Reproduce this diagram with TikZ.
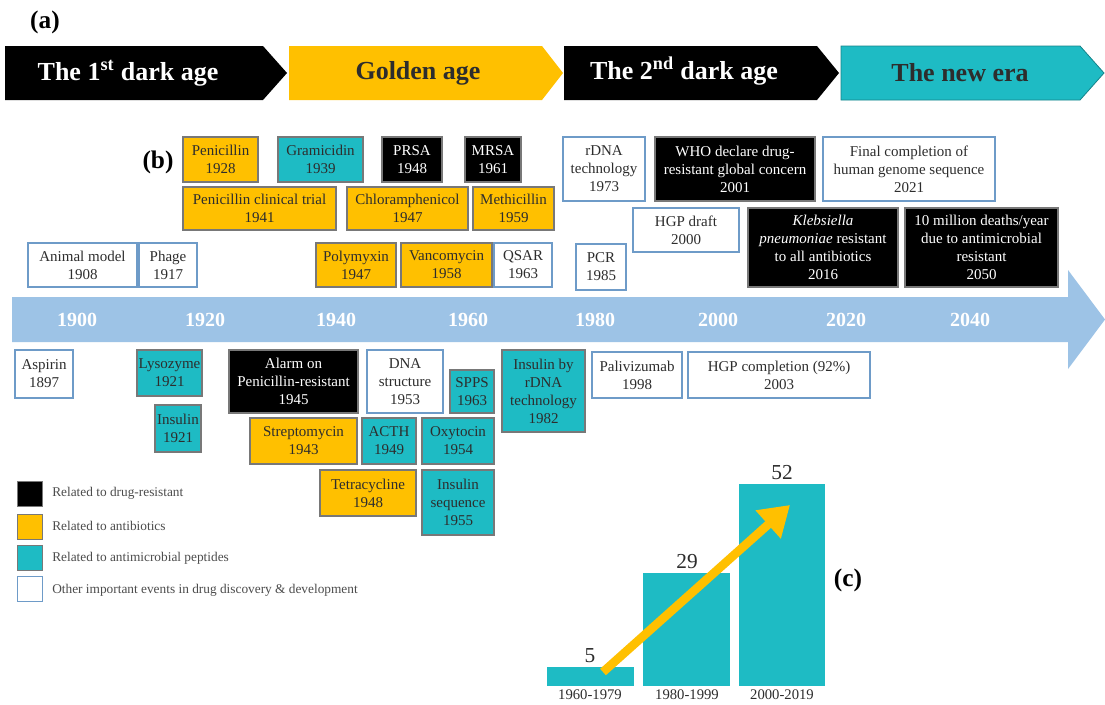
\documentclass[tikz,border=0pt]{standalone}
\usepackage{fontspec}
\setmainfont{Liberation Serif}
\usetikzlibrary{backgrounds,arrows.meta}
\definecolor{tlblue}{RGB}{157,195,230}
\definecolor{gold}{RGB}{255,192,0}
\definecolor{teal2}{RGB}{30,187,196}
\definecolor{bordblue}{RGB}{110,155,200}
\definecolor{bordgray}{RGB}{120,120,120}
\definecolor{txt}{RGB}{45,45,45}
\tikzset{
 ev/.style={line width=0.9pt, align=center, font=\fontsize{11.25}{13.5}\selectfont, inner sep=0.5pt, text=txt},
 wbox/.style={ev, fill=white, draw=bordblue},
 obox/.style={ev, fill=gold, draw=bordgray},
 tbox/.style={ev, fill=teal2, draw=bordgray},
 kbox/.style={ev, fill=black, draw=bordgray, text=white},
 sz/.style 2 args={minimum width=#1*0.75pt, minimum height=#2*0.75pt},
 conn/.style={draw=tlblue, line width=1.2pt},
 ph/.style={font=\fontsize{19.5}{22}\selectfont\bfseries, inner sep=0},
 lab/.style={font=\fontsize{19}{22}\selectfont\bfseries, text=black, inner sep=0},
 yr/.style={font=\fontsize{15}{17}\selectfont\bfseries, text=white, inner sep=0},
 lsq/.style={line width=0.8pt, minimum size=25*0.75pt, inner sep=0},
 ltx/.style={anchor=west, font=\fontsize{10}{11}\selectfont, text=txt!85, inner sep=0},
 num/.style={font=\fontsize{16}{18}\selectfont, text=txt, inner sep=0},
 xl/.style={font=\fontsize{11}{12}\selectfont, text=txt, inner sep=0},
}
\begin{document}
\begin{tikzpicture}[x=0.75pt,y=-0.75pt]
\useasboundingbox (0,0) rectangle (1105,704);
\fill[white] (0,0) rectangle (1105,704);

% (a) phases
\node[lab] (la) at (45,22) {(a)};
\fill[black] (5,46) -- (263,46) -- (287,73) -- (263,100) -- (5,100) -- cycle;
\node[ph, text=white] (p1) at (128,73) {The 1\textsuperscript{st} dark age};
\fill[gold] (289,46) -- (542,46) -- (563,73) -- (542,100) -- (289,100) -- cycle;
\node[ph, text=txt] (p2) at (418,73) {Golden age};
\fill[black] (564,46) -- (817,46) -- (839,73) -- (817,100) -- (564,100) -- cycle;
\node[ph, text=white] (p3) at (684,71) {The 2\textsuperscript{nd} dark age};
\filldraw[fill=teal2, draw=teal2!70!black, line width=0.6pt] (841,46) -- (1080,46) -- (1104,73) -- (1080,100) -- (841,100) -- cycle;
\node[ph, text=txt] (p4) at (960,73) {The new era};

% (b) label
\node[lab] (lb) at (158,162) {(b)};

% timeline
\coordinate (tltop) at (0,297);
\coordinate (tlbot) at (0,342);
\fill[tlblue] (12,297) -- (1068,297) -- (1068,270) -- (1105,319.5) -- (1068,369) -- (1068,342) -- (12,342) -- cycle;
\node[yr] (y1900) at (77,320) {1900};
\node[yr] (y1920) at (205,320) {1920};
\node[yr] (y1940) at (336,320) {1940};
\node[yr] (y1960) at (468,320) {1960};
\node[yr] (y1980) at (595,320) {1980};
\node[yr] (y2000) at (718,320) {2000};
\node[yr] (y2020) at (846,320) {2020};
\node[yr] (y2040) at (970,320) {2040};

% upper events
\node[obox, sz={75}{45}] (pen) at (220.5,159.5) {Penicillin\\1928};
\node[tbox, sz={85}{45}] (gram) at (320.5,159.5) {Gramicidin\\1939};
\node[kbox, sz={60}{45}] (prsa) at (412,159.5) {PRSA\\1948};
\node[kbox, sz={56}{45}] (mrsa) at (493,159.5) {MRSA\\1961};
\node[wbox, sz={82}{64}] (rdna) at (604,169) {rDNA\\technology\\1973};
\node[kbox, sz={160}{64}] (who) at (735,169) {WHO declare drug-\\resistant global concern\\2001};
\node[wbox, sz={172}{64}] (final) at (909,169) {Final completion of\\human genome sequence\\2021};
\node[obox, sz={153}{43}] (pct) at (259.5,208.5) {Penicillin clinical trial\\1941};
\node[obox, sz={121}{43}] (chl) at (407.5,208.5) {Chloramphenicol\\1947};
\node[obox, sz={81}{43}] (meth) at (513.5,208.5) {Methicillin\\1959};
\node[wbox, sz={106}{44}] (hgpd) at (686,230) {HGP draft\\2000};
\node[kbox, sz={150}{79}] (kleb) at (823,247.5) {\textit{Klebsiella}\\\textit{pneumoniae} resistant\\to all antibiotics\\2016};
\node[kbox, sz={153}{79}] (tenm) at (981.5,247.5) {10 million deaths/year\\due to antimicrobial\\resistant\\2050};
\node[wbox, sz={109}{44}] (anim) at (82.5,265) {Animal model\\1908};
\node[wbox, sz={58}{44}] (phage) at (168,265) {Phage\\1917};
\node[obox, sz={80}{44}] (poly) at (356,265) {Polymyxin\\1947};
\node[obox, sz={91}{44}] (vanc) at (446.5,265) {Vancomycin\\1958};
\node[wbox, sz={58}{44}] (qsar) at (523,265) {QSAR\\1963};
\node[wbox, sz={50}{46}] (pcr) at (601,267) {PCR\\1985};

% lower events
\node[wbox, sz={58}{48}] (asp) at (44,374) {Aspirin\\1897};
\node[tbox, sz={65}{46}] (lys) at (169.5,373) {Lysozyme\\1921};
\node[tbox, sz={46}{47}] (ins) at (178,428.5) {Insulin\\1921};
\node[kbox, sz={129}{63}] (alarm) at (293.5,381.5) {Alarm on\\Penicillin-resistant\\1945};
\node[obox, sz={107}{46}] (strep) at (303.5,441) {Streptomycin\\1943};
\node[wbox, sz={76}{63}] (dna) at (405,381.5) {DNA\\structure\\1953};
\node[tbox, sz={54}{46}] (acth) at (389,441) {ACTH\\1949};
\node[obox, sz={96}{46}] (tetra) at (368,493) {Tetracycline\\1948};
\node[tbox, sz={44}{43}] (spps) at (472,391.5) {SPPS\\1963};
\node[tbox, sz={72}{46}] (oxy) at (458,441) {Oxytocin\\1954};
\node[tbox, sz={72}{65}] (inseq) at (458,502.5) {Insulin\\sequence\\1955};
\node[tbox, sz={83}{82}] (insr) at (543.5,391) {Insulin by\\rDNA\\technology\\1982};
\node[wbox, sz={90}{46}] (pali) at (637,375) {Palivizumab\\1998};
\node[wbox, sz={182}{46}] (hgpc) at (779,375) {HGP completion (92\%)\\2003};

% connectors (behind boxes)
\begin{scope}[on background layer]
\draw[conn] (anim.south -| 91,0) -- (tltop -| 91,0);
\draw[conn] (phage.south -| 173,0) -- (tltop -| 173,0);
\draw[conn] (pen.south -| 237,0) -- (tltop -| 237,0);
\draw[conn] (gram.south -| 306,0) -- (tltop -| 306,0);
\draw[conn] (pct.south -| 333,0) -- (tltop -| 333,0);
\draw[conn] (chl.south -| 397,0) -- (tltop -| 397,0);
\draw[conn] (prsa.south -| 407,0) -- (tltop -| 407,0);
\draw[conn] (vanc.south -| 476,0) -- (tltop -| 476,0);
\draw[conn] (meth.south -| 481,0) -- (tltop -| 481,0);
\draw[conn] (mrsa.south -| 488,0) -- (tltop -| 488,0);
\draw[conn] (rdna.south -| 566,0) -- (tltop -| 566,0);
\draw[conn] (pcr.south -| 623,0) -- (tltop -| 623,0);
\draw[conn] (hgpd.south -| 688,0) -- (tltop -| 688,0);
\draw[conn] (who.south -| 694,0) -- (tltop -| 694,0);
\draw[conn] (kleb.south -| 814,0) -- (tltop -| 814,0);
\draw[conn] (final.south -| 852,0) -- (tltop -| 852,0);
\draw[conn] (tenm.south -| 1043,0) -- (tltop -| 1043,0);
\draw[conn] (tlbot -| 25,0) -- (asp.north -| 25,0);
\draw[conn] (tlbot -| 192,0) -- (ins.north -| 192,0);
\draw[conn] (tlbot -| 347,0) -- (strep.north -| 347,0);
\draw[conn] (tlbot -| 356,0) -- (alarm.north -| 356,0);
\draw[conn] (tlbot -| 408,0) -- (tetra.north -| 408,0);
\draw[conn] (tlbot -| 414,0) -- (acth.north -| 414,0);
\draw[conn] (tlbot -| 458,0) -- (oxy.north -| 458,0);
\draw[conn] (tlbot -| 470,0) -- (inseq.north -| 470,0);
\draw[conn] (tlbot -| 491,0) -- (spps.north -| 491,0);
\draw[conn] (tlbot -| 581,0) -- (insr.north -| 581,0);
\draw[conn] (tlbot -| 679,0) -- (pali.north -| 679,0);
\draw[conn] (tlbot -| 701,0) -- (hgpc.north -| 701,0);
\end{scope}

% legend
\node[lsq, fill=black, draw=bordgray] (lg1) at (30,494) {};
\node[ltx] (lt1) at (52,493) {Related to drug-resistant};
\node[lsq, fill=gold, draw=bordgray] (lg2) at (30,527) {};
\node[ltx] (lt2) at (52,526) {Related to antibiotics};
\node[lsq, fill=teal2, draw=bordgray] (lg3) at (30,558) {};
\node[ltx] (lt3) at (52,558) {Related to antimicrobial peptides};
\node[lsq, fill=white, draw=bordblue] (lg4) at (30,589) {};
\node[ltx] (lt4) at (52,590) {Other important events in drug discovery \& development};

% (c) bar chart
\fill[teal2] (547,667) rectangle (634,686);
\fill[teal2] (643,573) rectangle (730,686);
\fill[teal2] (739,484) rectangle (825,686);
\node[num] (n5) at (590,656) {5};
\node[num] (n29) at (687,562) {29};
\node[num] (n52) at (782,473) {52};
\node[xl] (x1) at (590,695) {1960-1979};
\node[xl] (x2) at (687,695) {1980-1999};
\node[xl] (x3) at (782,695) {2000-2019};
\coordinate (arA) at (603,672);
\coordinate (arB) at (790,505);
\draw[gold, line width=6.5pt, -{Triangle[length=22pt,width=27pt]}] (arA) -- (arB);
\node[lab] (lc) at (848,580) {(c)};
\end{tikzpicture}
\end{document}
